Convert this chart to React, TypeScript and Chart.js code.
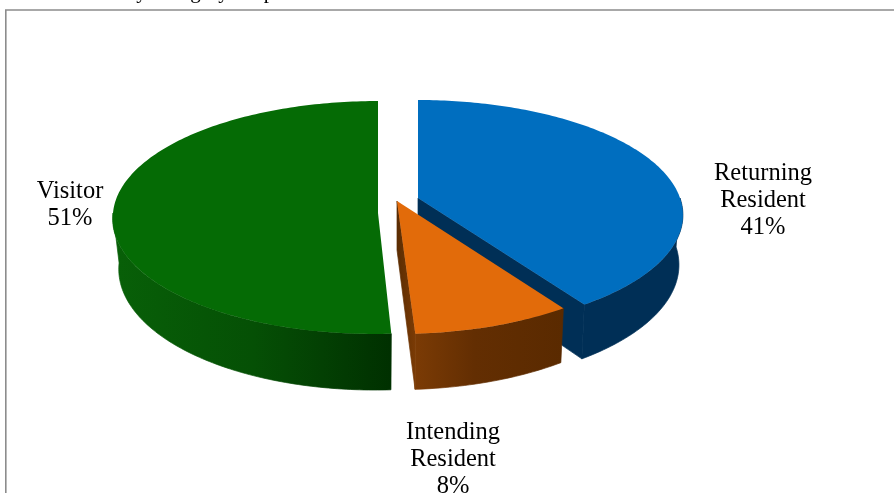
import React, { useEffect, useRef } from "react";
import { Chart, registerables } from "chart.js";

Chart.register(...registerables);

const categories = ["Returning Resident", "Intending Resident", "Visitor"];
const shares = [40.6, 8.45, 50.95];
const sliceColors = ["#006EBF", "#E26B0A", "#056B05"];
const titleText = "Travellers by Category for persons";

type Stop = [number, string];
interface Look {
  cx: number; cy: number; a: number; b: number; k: number; skew: number;
  depth: number; sx: number; sy: number;
  wall: Stop[]; cut: Stop[]; showCut: boolean;
  label: [number, number];
}
const looks: Look[] = [
  { cx: 418, cy: 198, a: 112.5, b: 262, k: 0.148, skew: 0, depth: 49, sx: 0.985, sy: 1.05,
    wall: [[0, "#002F56"], [1, "#002F56"]], cut: [[0, "#002F56"], [1, "#002F56"]], showCut: true, label: [763, 174] },
  { cx: 397, cy: 201, a: 113.3, b: 262, k: 0.148, skew: 0, depth: 49, sx: 0.985, sy: 1.05,
    wall: [[0, "#7B3B05"], [0.4, "#632E02"], [1, "#5A2A00"]], cut: [[0, "#5A2C02"], [1, "#7B3B05"]], showCut: true, label: [453, 433] },
  { cx: 378, cy: 213, a: 116.3, b: 265, k: 0.0386, skew: -3, depth: 50, sx: 0.977, sy: 1.05,
    wall: [[0, "#086008"], [0.5, "#055005"], [0.75, "#034003"], [1, "#003000"]], cut: [[0, "#003000"], [1, "#003000"]], showCut: false, label: [70, 192] },
];

const FONT = '24.5px "Liberation Serif", serif';
const LINE = 27;

function project(l: Look, theta: number, bottom: boolean): [number, number] {
  const u = Math.sin(theta);
  const v = -Math.cos(theta);
  const w = 1 - l.k * v;
  const sx = bottom ? l.sx : 1;
  const sy = bottom ? l.sy : 1;
  return [
    l.cx + (sx * l.b * u) / w + (l.skew * Math.max(0, v)) / w,
    l.cy + (bottom ? l.depth : 0) + (sy * l.a * v) / w,
  ];
}

function arcPoints(l: Look, t0: number, t1: number, bottom: boolean): [number, number][] {
  const n = Math.max(8, Math.ceil(Math.abs(t1 - t0) * 60));
  const pts: [number, number][] = [];
  for (let i = 0; i <= n; i++) pts.push(project(l, t0 + ((t1 - t0) * i) / n, bottom));
  return pts;
}

function fillPoly(ctx: CanvasRenderingContext2D, pts: [number, number][], fill: string | CanvasGradient, seal = false) {
  ctx.beginPath();
  pts.forEach((p, i) => (i ? ctx.lineTo(p[0], p[1]) : ctx.moveTo(p[0], p[1])));
  ctx.closePath();
  ctx.fillStyle = fill;
  ctx.fill();
  if (seal) {
    ctx.strokeStyle = fill;
    ctx.lineWidth = 0.7;
    ctx.stroke();
  }
}

function gradient(ctx: CanvasRenderingContext2D, pts: [number, number][], stops: Stop[]) {
  const xs = pts.map((p) => p[0]);
  const g = ctx.createLinearGradient(Math.min(...xs), 0, Math.max(...xs), 0);
  stops.forEach(([o, c]) => g.addColorStop(o, c));
  return g;
}

const pie3d = {
  id: "pie3d",
  beforeDatasetsDraw(chart: any) {
    const ctx: CanvasRenderingContext2D = chart.ctx;
    const arcs = chart.getDatasetMeta(0).data;
    arcs.forEach((arc: any, i: number) => {
      const l = looks[i];
      const t0 = arc.startAngle + Math.PI / 2;
      const t1 = arc.endAngle + Math.PI / 2;
      const topArc = arcPoints(l, t0, t1, false);
      const botArc = arcPoints(l, t0, t1, true);
      const apexT: [number, number] = [l.cx, l.cy];
      const apexB: [number, number] = [l.cx, l.cy + l.depth];
      if (l.showCut) {
        const idx = topArc.length - 1;
        const q: [number, number][] = [apexT, topArc[idx], botArc[idx], apexB];
        fillPoly(ctx, q, gradient(ctx, q, l.cut), true);
      }
      const wallFrom = Math.max(t0, Math.PI / 2);
      const wallTo = Math.min(t1, (3 * Math.PI) / 2);
      if (wallTo > wallFrom) {
        const a = arcPoints(l, wallFrom, wallTo, false);
        const b = arcPoints(l, wallFrom, wallTo, true).reverse();
        const poly = a.concat(b);
        fillPoly(ctx, poly, gradient(ctx, poly, l.wall), true);
      }
      fillPoly(ctx, [apexT, ...topArc], arc.options.backgroundColor);
    });
    return false;
  },
  afterDraw(chart: any) {
    const ctx: CanvasRenderingContext2D = chart.ctx;
    ctx.save();
    ctx.strokeStyle = "#8C8C8C";
    ctx.lineWidth = 1.6;
    ctx.beginPath();
    ctx.moveTo(5.8, 493);
    ctx.lineTo(5.8, 10);
    ctx.lineTo(894, 10);
    ctx.stroke();
    ctx.fillStyle = "#000";
    ctx.font = FONT;
    ctx.textAlign = "center";
    ctx.textBaseline = "middle";
    categories.forEach((name, i) => {
      const [x, y] = looks[i].label;
      const lines = [...name.split(" "), `${Math.round(shares[i])}%`];
      lines.forEach((t, j) => ctx.fillText(t, x, y + j * LINE));
    });
    ctx.font = '21px "Liberation Serif", serif';
    ctx.textAlign = "left";
    ctx.textBaseline = "alphabetic";
    ctx.fillText(titleText, 36, -2);
    ctx.restore();
  },
};

export default function App() {
  const ref = useRef<HTMLCanvasElement>(null);
  useEffect(() => {
    document.body.style.margin = "0";
    const chart = new Chart(ref.current!, {
      type: "pie",
      data: { labels: categories, datasets: [{ data: shares, backgroundColor: sliceColors, borderWidth: 0 }] },
      options: {
        responsive: false,
        animation: false,
        rotation: 0,
        plugins: { legend: { display: false }, tooltip: { enabled: false }, title: { display: false } },
      },
      plugins: [pie3d],
    } as any);
    return () => chart.destroy();
  }, []);
  return <canvas ref={ref} width={894} height={493} style={{ display: "block", width: 894, height: 493 }} />;
}
